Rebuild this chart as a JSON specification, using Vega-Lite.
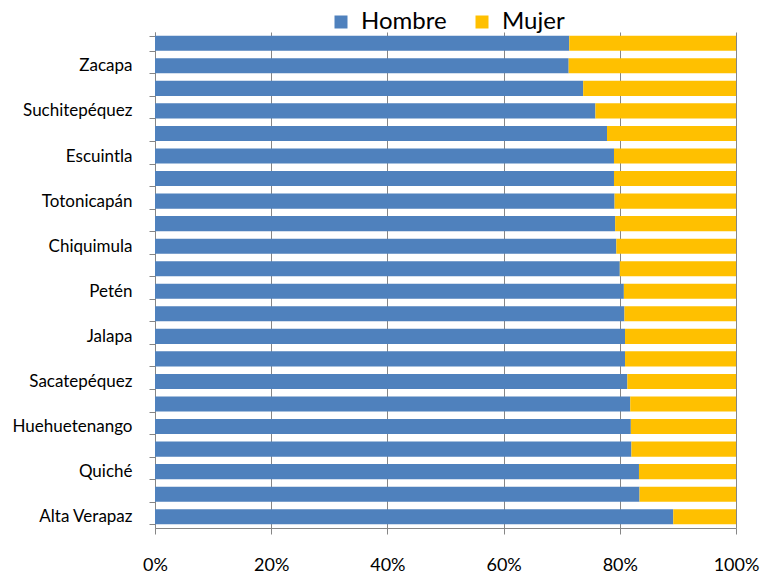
{
  "$schema": "https://vega.github.io/schema/vega-lite/v6.json",
  "width": 581,
  "height": 496,
  "autosize": {"type": "none"},
  "padding": {"left": 155, "top": 32, "right": 26, "bottom": 45},
  "background": "white",
  "config": {
    "font": "Lato",
    "view": {"stroke": null},
    "axis": {"labelFont": "Lato", "labelColor": "#000000", "domainColor": "#868686", "tickColor": "#868686", "gridColor": "#868686", "gridOpacity": 1}
  },
  "data": {
    "values": [
      {"departamento": "Guatemala", "orden": 1, "sexo": "Hombre", "valor": 71.3},
      {"departamento": "Guatemala", "orden": 1, "sexo": "Mujer", "valor": 28.7},
      {"departamento": "Zacapa", "orden": 2, "sexo": "Hombre", "valor": 71.2},
      {"departamento": "Zacapa", "orden": 2, "sexo": "Mujer", "valor": 28.8},
      {"departamento": "El Progreso", "orden": 3, "sexo": "Hombre", "valor": 73.7},
      {"departamento": "El Progreso", "orden": 3, "sexo": "Mujer", "valor": 26.3},
      {"departamento": "Suchitepéquez", "orden": 4, "sexo": "Hombre", "valor": 75.8},
      {"departamento": "Suchitepéquez", "orden": 4, "sexo": "Mujer", "valor": 24.2},
      {"departamento": "Izabal", "orden": 5, "sexo": "Hombre", "valor": 77.8},
      {"departamento": "Izabal", "orden": 5, "sexo": "Mujer", "valor": 22.2},
      {"departamento": "Escuintla", "orden": 6, "sexo": "Hombre", "valor": 79.0},
      {"departamento": "Escuintla", "orden": 6, "sexo": "Mujer", "valor": 21.0},
      {"departamento": "Retalhuleu", "orden": 7, "sexo": "Hombre", "valor": 79.0},
      {"departamento": "Retalhuleu", "orden": 7, "sexo": "Mujer", "valor": 21.0},
      {"departamento": "Totonicapán", "orden": 8, "sexo": "Hombre", "valor": 79.1},
      {"departamento": "Totonicapán", "orden": 8, "sexo": "Mujer", "valor": 20.9},
      {"departamento": "Santa Rosa", "orden": 9, "sexo": "Hombre", "valor": 79.2},
      {"departamento": "Santa Rosa", "orden": 9, "sexo": "Mujer", "valor": 20.8},
      {"departamento": "Chiquimula", "orden": 10, "sexo": "Hombre", "valor": 79.4},
      {"departamento": "Chiquimula", "orden": 10, "sexo": "Mujer", "valor": 20.6},
      {"departamento": "Jutiapa", "orden": 11, "sexo": "Hombre", "valor": 80.0},
      {"departamento": "Jutiapa", "orden": 11, "sexo": "Mujer", "valor": 20.0},
      {"departamento": "Petén", "orden": 12, "sexo": "Hombre", "valor": 80.7},
      {"departamento": "Petén", "orden": 12, "sexo": "Mujer", "valor": 19.3},
      {"departamento": "Quetzaltenango", "orden": 13, "sexo": "Hombre", "valor": 80.8},
      {"departamento": "Quetzaltenango", "orden": 13, "sexo": "Mujer", "valor": 19.2},
      {"departamento": "Jalapa", "orden": 14, "sexo": "Hombre", "valor": 80.9},
      {"departamento": "Jalapa", "orden": 14, "sexo": "Mujer", "valor": 19.1},
      {"departamento": "Chimaltenango", "orden": 15, "sexo": "Hombre", "valor": 80.9},
      {"departamento": "Chimaltenango", "orden": 15, "sexo": "Mujer", "valor": 19.1},
      {"departamento": "Sacatepéquez", "orden": 16, "sexo": "Hombre", "valor": 81.3},
      {"departamento": "Sacatepéquez", "orden": 16, "sexo": "Mujer", "valor": 18.7},
      {"departamento": "San Marcos", "orden": 17, "sexo": "Hombre", "valor": 81.8},
      {"departamento": "San Marcos", "orden": 17, "sexo": "Mujer", "valor": 18.2},
      {"departamento": "Huehuetenango", "orden": 18, "sexo": "Hombre", "valor": 81.9},
      {"departamento": "Huehuetenango", "orden": 18, "sexo": "Mujer", "valor": 18.1},
      {"departamento": "Sololá", "orden": 19, "sexo": "Hombre", "valor": 82.0},
      {"departamento": "Sololá", "orden": 19, "sexo": "Mujer", "valor": 18.0},
      {"departamento": "Quiché", "orden": 20, "sexo": "Hombre", "valor": 83.3},
      {"departamento": "Quiché", "orden": 20, "sexo": "Mujer", "valor": 16.7},
      {"departamento": "Baja Verapaz", "orden": 21, "sexo": "Hombre", "valor": 83.4},
      {"departamento": "Baja Verapaz", "orden": 21, "sexo": "Mujer", "valor": 16.6},
      {"departamento": "Alta Verapaz", "orden": 22, "sexo": "Hombre", "valor": 89.2},
      {"departamento": "Alta Verapaz", "orden": 22, "sexo": "Mujer", "valor": 10.8}
    ]
  },
  "mark": {"type": "bar"},
  "encoding": {
    "y": {
      "field": "departamento",
      "type": "nominal",
      "sort": {"field": "orden", "op": "min", "order": "ascending"},
      "scale": {"paddingInner": 0.33, "paddingOuter": 0.165},
      "axis": {
        "title": null,
        "tickBand": "extent",
        "tickSize": 6,
        "labelFontSize": 17,
        "labelPadding": 17,
        "domainWidth": 1,
        "labelExpr": "indexof(['Zacapa','Suchitepéquez','Escuintla','Totonicapán','Chiquimula','Petén','Jalapa','Sacatepéquez','Huehuetenango','Quiché','Alta Verapaz'], datum.value) >= 0 ? datum.value : ''"
      }
    },
    "x": {
      "field": "valor",
      "type": "quantitative",
      "stack": "normalize",
      "scale": {"domain": [0, 1], "nice": false},
      "axis": {
        "title": null,
        "format": ".0%",
        "values": [0, 0.2, 0.4, 0.6, 0.8, 1],
        "grid": true,
        "tickSize": 6,
        "labelFontSize": 18,
        "labelPadding": 22,
        "labelFlush": false
      }
    },
    "color": {
      "field": "sexo",
      "type": "nominal",
      "scale": {"domain": ["Hombre", "Mujer"], "range": ["#4F81BD", "#FFC000"]},
      "legend": {
        "title": null,
        "orient": "none",
        "direction": "horizontal",
        "legendX": 174,
        "legendY": -22,
        "symbolType": "square",
        "symbolSize": 169,
        "symbolStrokeWidth": 0,
        "symbolOpacity": 1,
        "labelFontSize": 24,
        "labelFont": "Lato",
        "labelColor": "#000000",
        "labelOffset": 8,
        "columnPadding": 23
      }
    },
    "order": {"field": "sexo", "sort": "ascending"}
  }
}
